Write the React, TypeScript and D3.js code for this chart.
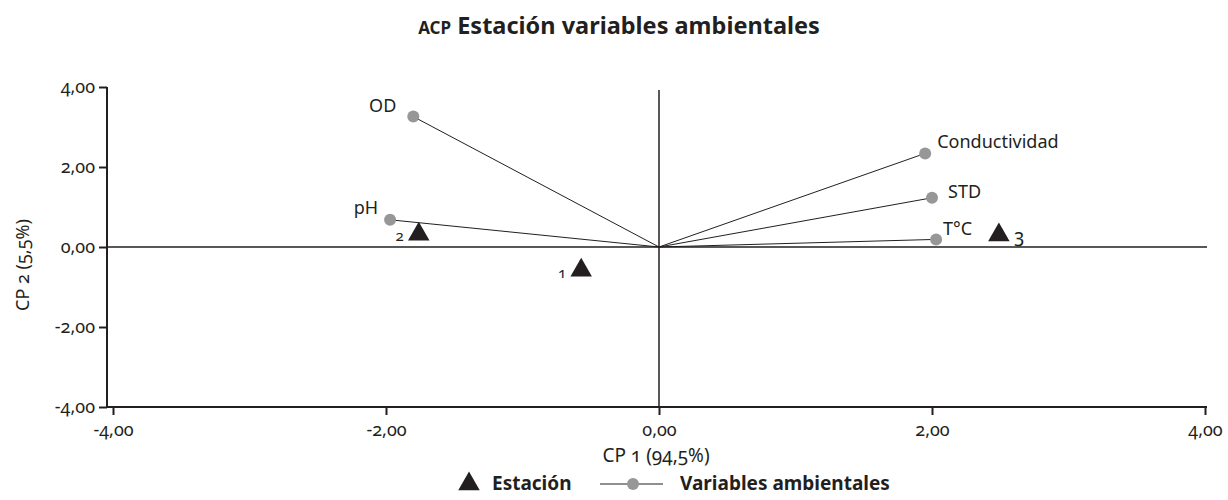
import React, { useRef, useEffect } from 'react';
import * as d3 from 'd3';

// Variables ambientales (loadings)
const variables = ['OD', 'pH', 'Conductividad', 'STD', 'T°C'];
const varX = [-1.8, -1.97, 1.95, 2.0, 2.03];
const varY = [3.26, 0.68, 2.34, 1.23, 0.19];

// Estaciones (scores)
const stations = ['1', '2', '3'];
const stX = [-0.57, -1.76, 2.49];
const stY = [-0.58, 0.32, 0.3];

const ticks = [-4, -2, 0, 2, 4];

const W = 1228;
const H = 500;
const FONT = '"Noto Sans", "Open Sans", sans-serif';
const INK = '#231f20';
const GREY = '#979797';

const App: React.FC = () => {
    const svgRef = useRef<SVGSVGElement | null>(null);

    useEffect(() => {
        if (!svgRef.current) return;
        const svg = d3.select(svgRef.current);
        svg.selectAll('*').remove();

        const x = d3.scaleLinear().domain([-4, 4]).range([113, 1205]);
        const y = d3.scaleLinear().domain([-4, 4]).range([407, 87]);
        const fmt = (d: number) => d3.format('.2f')(d).replace('.', ',').replace('−', '-');

        const g = svg.append('g')
            .style('font-family', FONT)
            .style('font-variant-numeric', 'oldstyle-nums');

        // Title
        const title = g.append('text')
            .attr('x', 619)
            .attr('y', 34)
            .attr('text-anchor', 'middle')
            .attr('font-weight', 'bold')
            .attr('font-size', 23.5)
            .attr('fill', INK);
        title.append('tspan').attr('font-size', 17).text('ACP');
        title.append('tspan').text(' Estación variables ambientales');

        // zero lines
        g.append('line')
            .attr('x1', 107).attr('x2', x(4) + 2)
            .attr('y1', y(0)).attr('y2', y(0))
            .attr('stroke', INK).attr('stroke-width', 1.5);
        g.append('line')
            .attr('x1', x(0)).attr('x2', x(0))
            .attr('y1', 90).attr('y2', y(-4))
            .attr('stroke', INK).attr('stroke-width', 1.5);

        // Axes
        const xAxis = g.append('g')
            .attr('transform', `translate(0,${y(-4)})`)
            .call(d3.axisBottom(x).tickValues(ticks).tickFormat(d => fmt(d as number)).tickSize(8).tickSizeOuter(0));
        xAxis.select('.domain').attr('d', `M107,0H${x(4) + 2}`).attr('stroke', INK).attr('stroke-width', 2);
        xAxis.selectAll('.tick line').attr('stroke', INK).attr('stroke-width', 2);
        xAxis.selectAll('text')
            .attr('font-size', 18).attr('fill', INK).attr('font-family', FONT).attr('y', 16);

        const yAxis = g.append('g')
            .attr('transform', 'translate(107,0)')
            .call(d3.axisLeft(y).tickValues(ticks).tickFormat(d => fmt(d as number)).tickSize(8).tickSizeOuter(0));
        yAxis.select('.domain').attr('d', `M0,${y(4)}V${y(-4) + 1}`).attr('stroke', INK).attr('stroke-width', 2);
        yAxis.selectAll('.tick line').attr('stroke', INK).attr('stroke-width', 2);
        yAxis.selectAll('text')
            .attr('font-size', 18).attr('fill', INK).attr('font-family', FONT).attr('x', -12);

        // Axis titles
        g.append('text')
            .attr('x', 656).attr('y', 462)
            .attr('text-anchor', 'middle')
            .attr('font-size', 19).attr('fill', INK)
            .text('CP 1 (94,5%)');
        g.append('text')
            .attr('transform', 'translate(29,265) rotate(-90)')
            .attr('text-anchor', 'middle')
            .attr('font-size', 18).attr('fill', INK)
            .text('CP 2 (5,5%)');

        // Variable vectors
        const vars = variables.map((name, i) => ({ name, vx: varX[i], vy: varY[i] }));
        g.selectAll('.vec')
            .data(vars)
            .enter().append('line')
            .attr('x1', x(0)).attr('y1', y(0))
            .attr('x2', d => x(d.vx)).attr('y2', d => y(d.vy))
            .attr('stroke', INK).attr('stroke-width', 1);
        g.selectAll('.vdot')
            .data(vars)
            .enter().append('circle')
            .attr('cx', d => x(d.vx)).attr('cy', d => y(d.vy))
            .attr('r', 6).attr('fill', GREY);

        const varLabelPos: Record<string, [number, number, string]> = {
            'OD': [-17, -5, 'end'],
            'pH': [-12, -6, 'end'],
            'Conductividad': [12, -5, 'start'],
            'STD': [16, 0, 'start'],
            'T°C': [7, -4, 'start'],
        };
        g.selectAll('.vlabel')
            .data(vars)
            .enter().append('text')
            .attr('x', d => x(d.vx) + varLabelPos[d.name][0])
            .attr('y', d => y(d.vy) + varLabelPos[d.name][1])
            .attr('text-anchor', d => varLabelPos[d.name][2])
            .attr('font-size', 18).attr('fill', INK)
            .text(d => d.name);

        // Stations
        const sts = stations.map((name, i) => ({ name, sx: stX[i], sy: stY[i] }));
        const tri = d3.symbol().type(d3.symbolTriangle).size(200);
        g.selectAll('.st')
            .data(sts)
            .enter().append('path')
            .attr('d', tri)
            .attr('transform', d => `translate(${x(d.sx)},${y(d.sy)})`)
            .attr('fill', INK);
        const stLabelDx: Record<string, [number, number, string, number]> = {
            '1': [-15, 8, 'end', 15],
            '2': [-15, 7, 'end', 15],
            '3': [15, 8, 'start', 19],
        };
        g.selectAll('.stlabel')
            .data(sts)
            .enter().append('text')
            .attr('x', d => x(d.sx) + stLabelDx[d.name][0])
            .attr('y', d => y(d.sy) + stLabelDx[d.name][1])
            .attr('text-anchor', d => stLabelDx[d.name][2])
            .attr('font-size', d => stLabelDx[d.name][3])
            .attr('fill', INK)
            .text(d => d.name);

        // Legend
        const lg = g.append('g').attr('transform', 'translate(0,484)');
        lg.append('path').attr('d', tri).attr('transform', 'translate(469,0)').attr('fill', INK);
        lg.append('text').attr('x', 492).attr('y', 6)
            .attr('font-size', 19).attr('font-weight', 'bold').attr('fill', INK)
            .text('Estación');
        lg.append('line').attr('x1', 600).attr('x2', 663).attr('y1', 0).attr('y2', 0)
            .attr('stroke', INK).attr('stroke-width', 1);
        lg.append('circle').attr('cx', 633).attr('cy', 0).attr('r', 6).attr('fill', GREY);
        lg.append('text').attr('x', 680).attr('y', 6)
            .attr('font-size', 19).attr('font-weight', 'bold').attr('fill', INK)
            .text('Variables ambientales');
    }, []);

    return <svg ref={svgRef} width={W} height={H} style={{ display: 'block', position: 'absolute', left: 0, top: 0 }}></svg>;
};

export default App;
